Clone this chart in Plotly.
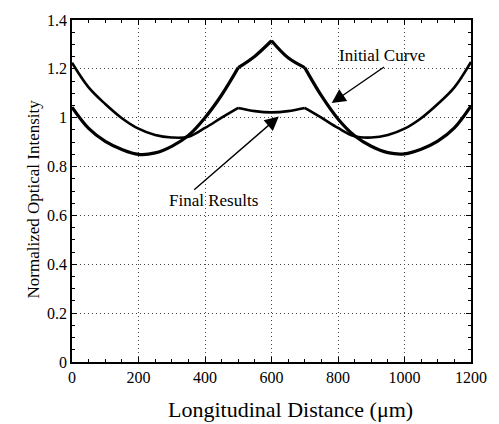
import plotly.graph_objects as go

# ---- data ----
distance_um = [0, 50, 100, 150, 200, 250, 300, 350, 400, 450, 500, 550, 600,
               650, 700, 750, 800, 850, 900, 950, 1000, 1050, 1100, 1150, 1200]
initial_curve = [1.043, 0.956, 0.903, 0.870, 0.850, 0.856, 0.883, 0.927, 1.000, 1.093, 1.205, 1.252, 1.315,
                 1.245, 1.205, 1.090, 0.995, 0.926, 0.883, 0.857, 0.852, 0.871, 0.904, 0.958, 1.048]
final_results = [1.225, 1.124, 1.056, 0.998, 0.955, 0.929, 0.919, 0.922, 0.958, 1.000, 1.040, 1.027, 1.022,
                 1.027, 1.040, 1.000, 0.958, 0.924, 0.919, 0.929, 0.955, 0.998, 1.056, 1.124, 1.228]
initial_kinks = [500, 600, 700]
final_kinks = [500, 700]
x_ticks = [0, 200, 400, 600, 800, 1000, 1200]
y_ticks = [0, 0.2, 0.4, 0.6, 0.8, 1, 1.2, 1.4]
y_tick_labels = ["0", "0.2", "0.4", "0.6", "0.8", "1", "1.2", "1.4"]

FONT = "Liberation Serif, Times New Roman, serif"

fig = go.Figure()


def add_segments(xs, ys, kinks, width):
    bounds = [xs[0]] + kinks + [xs[-1]]
    for a, b in zip(bounds[:-1], bounds[1:]):
        idx = [i for i, v in enumerate(xs) if a <= v <= b]
        fig.add_trace(go.Scatter(
            x=[xs[i] for i in idx], y=[ys[i] for i in idx],
            mode="lines", line=dict(color="black", width=width, shape="spline", smoothing=1.0),
            showlegend=False, hoverinfo="skip"))


add_segments(distance_um, initial_curve, initial_kinks, 3.2)
add_segments(distance_um, final_results, final_kinks, 2.6)

axis_common = dict(
    showline=True, linecolor="black", linewidth=1.5, mirror="ticks",
    ticks="inside", ticklen=5, tickcolor="black", tickwidth=1,
    showgrid=True, gridcolor="#444444", griddash="1px,3px", gridwidth=1,
    zeroline=False, tickfont=dict(family=FONT, size=16, color="black"),
)

fig.update_xaxes(range=[0, 1200], tickvals=x_ticks,
                 minor=dict(dtick=50, ticks="inside", ticklen=3, tickcolor="black", showgrid=False),
                 **axis_common)
fig.update_yaxes(range=[0, 1.4], tickvals=y_ticks, ticktext=y_tick_labels,
                 minor=dict(dtick=0.05, ticks="inside", ticklen=3, tickcolor="black", showgrid=False),
                 **axis_common)

ann_font = dict(family=FONT, size=17, color="black")
fig.add_annotation(x=932, y=1.254, text="Initial Curve", showarrow=False, font=ann_font)
fig.add_annotation(x=781, y=1.06, ax=943, ay=1.212, axref="x", ayref="y", text="",
                   showarrow=True, arrowhead=2, arrowsize=2.0, arrowwidth=1.4, arrowcolor="black")
fig.add_annotation(x=425, y=0.66, text="Final Results", showarrow=False, font=ann_font)
fig.add_annotation(x=622, y=1.005, ax=363, ay=0.70, axref="x", ayref="y", text="",
                   showarrow=True, arrowhead=2, arrowsize=2.0, arrowwidth=1.4, arrowcolor="black")

# axis titles
fig.add_annotation(xref="paper", yref="paper", x=-0.125, y=0.477, text="Normalized Optical Intensity",
                   textangle=-90, showarrow=False, font=dict(family=FONT, size=17, color="black"))
fig.add_annotation(xref="paper", yref="paper", x=0.547, y=-0.139, yanchor="middle",
                   text="Longitudinal Distance (μm)", showarrow=False,
                   font=dict(family=FONT, size=22, color="black"))

fig.update_layout(
    width=499, height=424,
    margin=dict(l=72, r=20, t=16, b=62),
    paper_bgcolor="white", plot_bgcolor="white",
    showlegend=False,
)

fig.write_html("out.html")
